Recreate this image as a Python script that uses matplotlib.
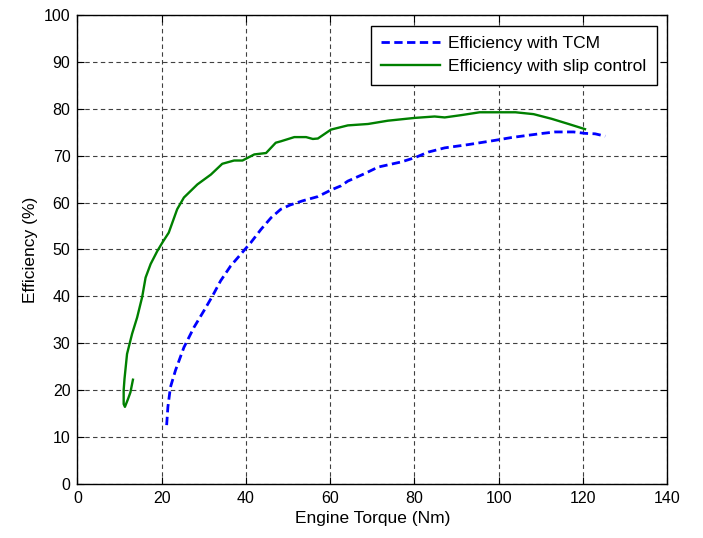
import numpy as np
import matplotlib.pyplot as plt

plt.rcParams['font.family'] = ['Liberation Sans', 'DejaVu Sans']

# Efficiency with TCM (blue, dashed)
tcm_torque = [21.2, 21.5, 22.1, 23.3, 25.3, 27.7, 30.1, 32.1, 34.0, 36.4, 38.8,
              41.2, 43.6, 46.0, 48.3, 50.5, 53.5, 57.1, 60.2, 62.6, 64.2, 68.2,
              71.4, 76.9, 80.1, 83.3, 87.2, 92.8, 99.1, 103.0, 107.1, 110.5,
              113.4, 117.8, 120.5, 122.9, 125.3]
tcm_eff = [12.5, 16.4, 20.6, 24.2, 29.1, 33.4, 37.0, 40.1, 43.3, 46.5, 49.0,
           51.5, 54.3, 56.8, 58.6, 59.5, 60.4, 61.3, 62.7, 63.6, 64.6, 66.2,
           67.6, 68.7, 69.6, 70.8, 71.7, 72.4, 73.3, 73.9, 74.4, 74.8,
           75.1, 75.1, 74.8, 74.7, 74.2]

# Efficiency with slip control (green, solid)
slip_torque = [13.2, 12.6, 12.0, 11.3, 11.0, 11.0, 11.2, 11.8, 13.0, 14.2, 15.4,
               16.2, 17.4, 19.0, 20.2, 21.7, 23.7, 25.3, 26.1, 28.5, 31.7, 34.4,
               37.2, 39.2, 42.0, 44.8, 47.1, 48.3, 51.5, 54.3, 55.9, 57.1, 60.2,
               64.2, 69.0, 73.7, 80.1, 84.8, 87.2, 91.2, 95.5, 100.4, 104.0,
               108.3, 112.6, 116.6, 120.5]
slip_eff = [22.2, 19.5, 18.0, 16.4, 17.0, 20.0, 22.4, 27.7, 32.0, 35.5, 39.9,
            44.0, 46.9, 49.7, 51.5, 53.6, 58.6, 61.1, 61.8, 63.9, 66.0, 68.3,
            69.0, 69.0, 70.3, 70.6, 72.8, 73.1, 74.0, 74.0, 73.6, 73.7, 75.6,
            76.5, 76.8, 77.5, 78.1, 78.4, 78.2, 78.7, 79.3, 79.3, 79.3,
            78.9, 77.9, 76.8, 75.7]

fig = plt.figure(figsize=(7.03, 5.38), dpi=100)
ax = fig.add_axes([0.11, 0.101, 0.839, 0.8705])

ax.plot(tcm_torque, tcm_eff, color='blue', linestyle='--', dashes=(3, 1.6),
        linewidth=2.0, label='Efficiency with TCM')
ax.plot(slip_torque, slip_eff, color='green', linestyle='-', linewidth=1.7,
        label='Efficiency with slip control')

ax.set_xlim(0, 140)
ax.set_ylim(0, 100)
ax.set_xticks(np.arange(0, 141, 20))
ax.set_yticks(np.arange(0, 101, 10))
ax.tick_params(direction='in', top=True, right=True, labelsize=11.5, length=5,
               pad=5)
for s in ax.spines.values():
    s.set_linewidth(1.0)

ax.grid(True, color='#404040', linestyle=(0, (4, 3)), linewidth=0.8)

ax.set_xlabel('Engine Torque (Nm)', fontsize=12.5, labelpad=4)
ax.set_ylabel('Efficiency (%)', fontsize=12.5, labelpad=4)

leg = ax.legend(loc='upper right', fontsize=12.5, fancybox=False, framealpha=1,
                edgecolor='black', borderaxespad=0.6, handlelength=3.4,
                handletextpad=0.45, labelspacing=0.45, borderpad=0.6)
leg.get_frame().set_linewidth(1.0)

fig.savefig('out.png', dpi=100)
